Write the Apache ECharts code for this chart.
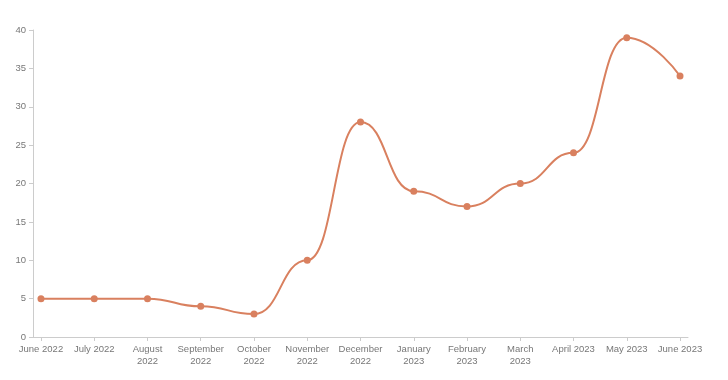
<!DOCTYPE html>
<html><head><meta charset="utf-8">
<script src="https://cdn.jsdelivr.net/npm/echarts@6/dist/echarts.min.js"></script>
<style>html,body{margin:0;padding:0;background:#fff}#c{width:728px;height:380px}</style>
</head><body><div id="c"></div>
<script>
var categories = ['June 2022','July 2022','August\n2022','September\n2022','October\n2022','November\n2022','December\n2022','January\n2023','February\n2023','March\n2023','April 2023','May 2023','June 2023'];
var values = [5,5,5,4,3,10,28,19,17,20,24,39,34];
var yTicks = [0,5,10,15,20,25,30,35,40];

var idx = categories.map(function(_, i){ return i; });
var chart = echarts.init(document.getElementById('c'));
var labelStyle = {color:'#777', fontSize:9.5, fontFamily:'Liberation Sans, Arial, sans-serif'};
chart.setOption({
  animation:false,
  grid:{left:33, right:40, top:30, bottom:43},
  xAxis:{
    type:'value', min:-0.15, max:categories.length-1+0.15,
    splitLine:{show:false},
    axisLine:{onZero:false, lineStyle:{color:'#ccc'}},
    axisTick:{customValues:idx, length:4, lineStyle:{color:'#ccc'}},
    axisLabel:Object.assign({customValues:idx, margin:6, lineHeight:12,
      formatter:function(v){ return categories[Math.round(v)]; }}, labelStyle)
  },
  yAxis:{
    type:'value', min:yTicks[0], max:yTicks[yTicks.length-1], interval:5,
    splitLine:{show:false},
    axisLine:{show:true, onZero:false, lineStyle:{color:'#ccc'}},
    axisTick:{show:true, length:4, lineStyle:{color:'#ccc'}},
    axisLabel:Object.assign({margin:7}, labelStyle)
  },
  series:[{
    type:'line', smooth:0.5, smoothMonotone:'x',
    data: values.map(function(v,i){ return [i, v]; }),
    symbol:'circle', symbolSize:7,
    lineStyle:{color:'#D9805F', width:2},
    itemStyle:{color:'#D9805F'}
  }]
});
</script></body></html>
